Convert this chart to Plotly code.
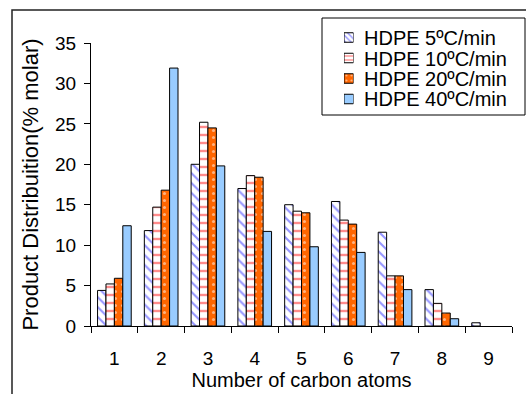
import plotly.graph_objects as go

categories = ["1", "2", "3", "4", "5", "6", "7", "8", "9"]
hdpe_5 = [4.4, 11.8, 20.0, 17.0, 15.0, 15.4, 11.6, 4.5, 0.4]
hdpe_10 = [5.2, 14.7, 25.2, 18.6, 14.2, 13.1, 6.2, 2.8, None]
hdpe_20 = [5.9, 16.8, 24.5, 18.4, 14.0, 12.6, 6.2, 1.6, None]
hdpe_40 = [12.4, 31.9, 19.8, 11.7, 9.8, 9.1, 4.5, 0.9, None]
series_names = ["HDPE 5ºC/min", "HDPE 10ºC/min", "HDPE 20ºC/min", "HDPE 40ºC/min"]
y_ticks = [0, 5, 10, 15, 20, 25, 30, 35]

FONT = "Arial, Liberation Sans, sans-serif"
W, H = 526, 394
L, R, T, B = 91, 14, 10, 68
PLOT_TOP = 43
pw, ph = W - L - R, H - T - B


def px_to_paper_x(px):
    return (px - L) / pw


def px_to_paper_y(py):
    return (H - B - py) / ph


styles = [
    dict(color="white", line=dict(color="black", width=1),
         pattern=dict(shape="\\", fgcolor="#2a2aff", bgcolor="white", size=7, solidity=0.3)),
    dict(color="white", line=dict(color="black", width=1),
         pattern=dict(shape="-", fgcolor="#ff1a1a", bgcolor="white", size=8, solidity=0.3)),
    dict(color="#ff6600", line=dict(color="black", width=1),
         pattern=dict(shape=".", fgcolor="white", bgcolor="#ff6600", size=7, solidity=0.15)),
    dict(color="#99ccff", line=dict(color="black", width=1)),
]
legend_styles = [
    dict(color="white", line=dict(color="black", width=1),
         pattern=dict(shape="\\", fgcolor="#2a2aff", bgcolor="white", size=4, solidity=0.35)),
    dict(color="white", line=dict(color="black", width=1),
         pattern=dict(shape="-", fgcolor="#ff1a1a", bgcolor="white", size=4, solidity=0.35)),
    dict(color="#ff6600", line=dict(color="black", width=1),
         pattern=dict(shape=".", fgcolor="white", bgcolor="#ff6600", size=5, solidity=0.15)),
    dict(color="#99ccff", line=dict(color="black", width=1)),
]

series = [hdpe_5, hdpe_10, hdpe_20, hdpe_40]

fig = go.Figure()
for name, vals, st in zip(series_names, series, styles):
    fig.add_trace(go.Bar(x=categories, y=vals, name=name, marker=st,
                         showlegend=False, xaxis="x", yaxis="y"))

# Manual legend (pixel units on a helper axis pair)
LEG_TOP, LEG_BOT = 18, 115
row_centers = [37.5, 58, 78.5, 99]
sym = 9.5
for name, st, yc in zip(series_names, legend_styles, row_centers):
    fig.add_trace(go.Bar(x=[0.5], y=[sym], base=[yc - sym / 2], width=[1], offset=[-0.5],
                         offsetgroup="legend", marker=st,
                         showlegend=False, xaxis="x2", yaxis="y2", hoverinfo="skip"))

annotations = [
    dict(text=name, xref="paper", yref="paper", x=px_to_paper_x(362), y=px_to_paper_y(yc + 0.5),
         xanchor="left", yanchor="middle", showarrow=False,
         font=dict(family=FONT, size=20, color="black"))
    for name, yc in zip(series_names, row_centers)
]

fig.update_layout(
    width=W, height=H,
    margin=dict(l=L, r=R, t=T, b=B, autoexpand=False),
    paper_bgcolor="white", plot_bgcolor="rgba(0,0,0,0)",
    barmode="group", bargap=0.28, bargroupgap=0,
    font=dict(family=FONT, size=19, color="black"),
    showlegend=False,
    xaxis=dict(
        type="category", showline=True, linecolor="black", linewidth=1,
        ticks="outside", tickson="boundaries", ticklen=6, tickcolor="black",
        tickfont=dict(size=19), ticklabelstandoff=15,
        title=dict(text="Number of carbon atoms", font=dict(size=20), standoff=0),
        showgrid=False, zeroline=False, anchor="y",
    ),
    yaxis=dict(
        domain=[0, px_to_paper_y(PLOT_TOP)],
        range=[0, 35], tickvals=y_ticks, showline=True, linecolor="black", linewidth=1,
        ticks="outside", ticklen=6, tickcolor="black", tickfont=dict(size=19),
        ticklabelstandoff=4,
        title=dict(text="Product Distribuition(% molar)", font=dict(size=22), standoff=10),
        showgrid=False, zeroline=False, anchor="x",
    ),
    xaxis2=dict(domain=[px_to_paper_x(344), px_to_paper_x(344 + sym)], range=[0, 1],
                visible=False, anchor="y2", fixedrange=True),
    yaxis2=dict(domain=[px_to_paper_y(LEG_BOT), px_to_paper_y(LEG_TOP)],
                range=[LEG_BOT, LEG_TOP], visible=False, anchor="x2", fixedrange=True),
    annotations=annotations,
    shapes=[
        dict(type="rect", xref="paper", yref="paper",
             x0=px_to_paper_x(12), x1=px_to_paper_x(540),
             y0=px_to_paper_y(410), y1=px_to_paper_y(10),
             line=dict(color="#222222", width=1.5), fillcolor="rgba(0,0,0,0)", layer="below"),
        dict(type="rect", xref="paper", yref="paper",
             x0=px_to_paper_x(322), x1=px_to_paper_x(525),
             y0=px_to_paper_y(LEG_BOT), y1=px_to_paper_y(LEG_TOP),
             line=dict(color="black", width=1), fillcolor="white", layer="below"),
    ],
)

fig.write_html("out.html")
